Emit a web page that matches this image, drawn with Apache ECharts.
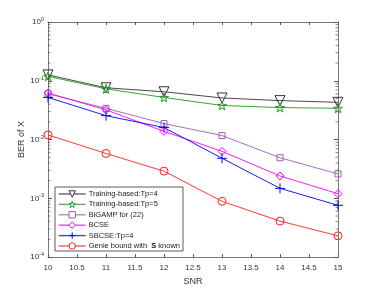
<!DOCTYPE html>
<html><head><meta charset="utf-8">
<script src="https://cdn.jsdelivr.net/npm/echarts@6/dist/echarts.min.js"></script>
<style>html,body{margin:0;padding:0;background:#fff}#c{width:374px;height:291px}</style>
</head><body><div id="c"></div>
<script>
const snr = [10, 11, 12, 13, 14, 15];
const train4 = [0.126, 0.076, 0.065, 0.051, 0.046, 0.043];
const train5 = [0.119, 0.073, 0.052, 0.038, 0.035, 0.034];
const bigamp = [0.060, 0.034, 0.0187, 0.0117, 0.0049, 0.0026];
const bcse = [0.062, 0.032, 0.0138, 0.0063, 0.0024, 0.0012];
const sbcse = [0.052, 0.0255, 0.016, 0.0048, 0.00148, 0.00076];
const genie = [0.012, 0.0058, 0.0029, 0.00089, 0.00041, 0.00023];
const names = ['Training-based:Tp=4', 'Training-based:Tp=5', 'BiGAMP for (22)', 'BCSE', 'SBCSE:Tp=4', 'Genie bound with  S known'];
const minorVals = [];
for (let e = -4; e < 0; e++) for (let m = 2; m <= 9; m++) minorVals.push(m * Math.pow(10, e));

const star = 'path://M50,0 L61,35 L98,35 L68,57 L79,91 L50,70 L21,91 L32,57 L2,35 L39,35 Z';
const plus = 'path://M0,50 L100,50 M50,0 L50,100';
const cfg = [
  {d: train4, c: '#333333', s: 'triangle', r: 180, z: 10},
  {d: train5, c: '#1f9a1f', s: star, r: 0, z: 9},
  {d: bigamp, c: '#9e5fb0', s: 'rect', r: 0, z: 6},
  {d: bcse, c: '#ff00ff', s: 'diamond', r: 0, z: 8},
  {d: sbcse, c: '#0000ff', s: plus, r: 0, z: 10},
  {d: genie, c: '#ff2020', s: 'circle', r: 0, z: 8}
];
const series = cfg.map((o, i) => ({
  name: names[i], type: 'line', xAxisIndex: 0, yAxisIndex: 0,
  data: snr.map((x, j) => [x, o.d[j]]),
  symbol: o.s, symbolRotate: o.r, symbolSize: o.z,
  showSymbol: true,
  lineStyle: {color: o.c, width: 0.9},
  itemStyle: {color: 'rgba(255,255,255,0)', borderColor: o.c, borderWidth: 1},
  emphasis: {disabled: true}, animation: false
}));
series.push({
  type: 'custom', xAxisIndex: 0, yAxisIndex: 0, silent: true, animation: false,
  data: minorVals.map(v => [10, v]),
  renderItem: function (params, api) {
    const v = api.value(1);
    const l = api.coord([10, v]);
    const r = api.coord([15, v]);
    return {type: 'group', children: [
      {type: 'line', shape: {x1: l[0], y1: l[1], x2: l[0] + 2.5, y2: l[1]}, style: {stroke: '#555', lineWidth: 0.7}},
      {type: 'line', shape: {x1: r[0], y1: r[1], x2: r[0] - 2.5, y2: r[1]}, style: {stroke: '#555', lineWidth: 0.7}}
    ]};
  }
});
const axisLine = {show: true, lineStyle: {color: '#555', width: 0.8}};
const option = {
  backgroundColor: '#fff',
  grid: {left: 48, right: 36, top: 22, bottom: 33, show: false},
  xAxis: [{
    type: 'value', min: 10, max: 15, interval: 0.5, position: 'bottom',
    name: 'SNR', nameLocation: 'middle', nameGap: 19,
    nameTextStyle: {fontSize: 9, color: '#333', fontFamily: 'Liberation Sans'},
    axisLine: axisLine, axisTick: {inside: true, length: 3, lineStyle: {color: '#555'}},
    axisLabel: {fontSize: 8, color: '#333', fontFamily: 'Liberation Sans', margin: 7,
      formatter: v => String(v)},
    splitLine: {show: false}
  }, {
    type: 'value', min: 10, max: 15, interval: 0.5, position: 'top',
    axisLine: axisLine, axisTick: {inside: true, length: 3, lineStyle: {color: '#555'}},
    axisLabel: {show: false}, splitLine: {show: false}
  }],
  yAxis: [{
    type: 'log', logBase: 10, min: 1e-4, max: 1, position: 'left',
    name: 'BER of X', nameLocation: 'middle', nameGap: 22, nameMoveOverlap: false,
    nameTextStyle: {fontSize: 9, color: '#333', fontFamily: 'Liberation Sans'},
    axisLine: axisLine, axisTick: {inside: true, length: 4, lineStyle: {color: '#555'}},
    axisLabel: {color: '#333', margin: 4,
      formatter: v => '{b|10}{s|' + Math.round(Math.log10(v)) + '}',
      rich: {b: {fontSize: 8, fontFamily: 'Liberation Sans', color: '#333'},
             s: {fontSize: 5.5, fontFamily: 'Liberation Sans', color: '#333', verticalAlign: 'top', padding: [0, 0, 5, 0]}}},
    splitLine: {show: false}
  }, {
    type: 'log', logBase: 10, min: 1e-4, max: 1, position: 'right',
    axisLine: axisLine, axisTick: {inside: true, length: 4, lineStyle: {color: '#555'}},
    axisLabel: {show: false}, splitLine: {show: false}
  }],
  legend: {
    orient: 'vertical', left: 55, top: 187, data: names,
    backgroundColor: '#fff', borderColor: '#333', borderWidth: 0.8,
    padding: [3, 3, 1, 3], itemGap: 2.4, itemWidth: 27, itemHeight: 8,
    selectedMode: false,
    itemStyle: {color: '#ffffff', borderColor: 'inherit', borderWidth: 1},
    lineStyle: {width: 1.4, opacity: 0.75},
    formatter: function (n) {
      if (n.indexOf(' S ') >= 0) return '{n|Genie bound with  }{b|S}{n| known}';
      return '{n|' + n + '}';
    },
    textStyle: {fontSize: 7.5, color: '#222', fontFamily: 'Liberation Sans', padding: [0, 0, 0, -2],
      rich: {n: {fontSize: 7.5, fontFamily: 'Liberation Sans', color: '#222'},
             b: {fontSize: 7.5, fontFamily: 'Liberation Sans', color: '#222', fontWeight: 'bold'}}}
  },
  series: series
};
const chart = echarts.init(document.getElementById('c'), null, {renderer: 'canvas'});
chart.setOption(option);
</script></body></html>
